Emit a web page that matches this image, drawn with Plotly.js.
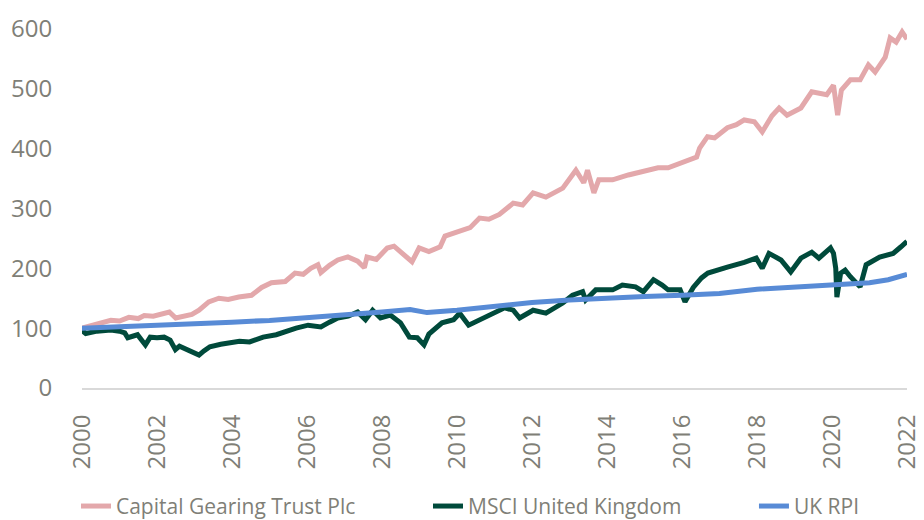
<!DOCTYPE html>
<html>
<head>
<meta charset="utf-8">
<script src="https://cdn.plot.ly/plotly-3.0.1.min.js"></script>
<style>html,body{margin:0;padding:0;background:#fff;}#chart{width:924px;height:520px;}</style>
</head>
<body>
<div id="chart"></div>
<script>
// Capital Gearing Trust Plc (rebased to 100 at 2000)
const cgtYears = [2000.0,2000.25,2000.5,2000.77,2001.0,2001.25,2001.5,2001.66,2001.9,2002.1,2002.33,2002.5,2002.7,2002.93,2003.12,2003.38,2003.65,2003.9,2004.18,2004.52,2004.79,2005.05,2005.42,2005.68,2005.9,2006.1,2006.29,2006.37,2006.6,2006.82,2007.09,2007.35,2007.53,2007.6,2007.85,2008.14,2008.32,2008.6,2008.8,2008.99,2009.25,2009.55,2009.68,2010.07,2010.35,2010.6,2010.85,2011.13,2011.5,2011.75,2012.03,2012.37,2012.6,2012.82,2013.17,2013.38,2013.48,2013.55,2013.65,2013.78,2014.15,2014.57,2015.02,2015.36,2015.63,2016.08,2016.39,2016.47,2016.68,2016.87,2017.21,2017.45,2017.66,2017.93,2018.14,2018.4,2018.59,2018.8,2019.17,2019.46,2019.86,2020.04,2020.15,2020.25,2020.49,2020.75,2020.97,2021.15,2021.42,2021.55,2021.71,2021.87,2022.0];
const cgtValues = [100,104,108,113,112,118,116,121,120,124,127,117,119,123,130,144,150,148,152,155,168,176,178,192,190,200,206,193,205,214,219,212,201,219,215,234,237,222,211,234,228,236,254,262,268,284,282,290,309,306,326,319,326,334,364,343,364,350,326,348,348,356,364,368,368,378,386,401,420,418,435,440,448,445,428,455,468,456,468,495,490,506,456,498,515,515,540,528,553,585,578,595,583];

// MSCI United Kingdom
const msciYears = [2000.0,2000.1,2000.4,2000.77,2001.0,2001.14,2001.22,2001.48,2001.69,2001.82,2002.0,2002.19,2002.35,2002.49,2002.6,2002.72,2002.93,2003.12,2003.25,2003.41,2003.7,2003.94,2004.2,2004.47,2004.83,2005.18,2005.53,2005.71,2006.03,2006.37,2006.6,2006.82,2007.1,2007.35,2007.56,2007.75,2007.96,2008.22,2008.49,2008.73,2008.94,2009.12,2009.25,2009.45,2009.6,2009.91,2010.07,2010.31,2010.6,2010.97,2011.27,2011.5,2011.67,2012.03,2012.37,2012.82,2013.08,2013.35,2013.43,2013.7,2014.15,2014.41,2014.76,2014.97,2015.24,2015.47,2015.63,2015.95,2016.08,2016.3,2016.52,2016.69,2016.87,2017.21,2017.66,2017.98,2018.14,2018.32,2018.64,2018.9,2019.17,2019.46,2019.65,2019.96,2020.04,2020.1,2020.13,2020.23,2020.35,2020.49,2020.75,2020.91,2021.27,2021.63,2021.84,2022.0];
const msciValues = [96,91,95,97,95,92,84,89,72,85,84,85,80,64,70,67,62,55,62,69,73,76,78,77,85,89,97,100,105,102,110,117,120,127,114,130,117,122,109,85,84,72,90,100,109,114,125,105,114,125,134,130,117,130,125,142,155,161,147,164,164,172,169,161,181,172,164,164,144,168,184,192,196,202,210,217,200,225,214,194,217,227,217,234,225,200,152,192,197,186,169,206,219,225,236,245];

// UK RPI
const rpiYears = [2000,2001,2002,2003,2004,2005,2006,2007,2008,2008.75,2009.2,2010,2011,2012,2013,2014,2015,2016,2017,2018,2019,2020,2021,2021.5,2022];
const rpiValues = [100,102,104,107,110,113,117,122,127,131,126,130,137,143,147,151,153,155,158,165,169,173,176,181,190];

const seriesNames = ['Capital Gearing Trust Plc','MSCI United Kingdom','UK RPI'];
const tickYears = [2000,2002,2004,2006,2008,2010,2012,2014,2016,2018,2020,2022];
const yTicks = [0,100,200,300,400,500,600];

const gray = '#7f7f77';
const traces = [
  {x: cgtYears, y: cgtValues, name: seriesNames[0], type: 'scatter', mode: 'lines',
   line: {color: '#e3a8ab', width: 5}, legend: 'legend'},
  {x: msciYears, y: msciValues, name: seriesNames[1], type: 'scatter', mode: 'lines',
   line: {color: '#004a3b', width: 5}, legend: 'legend2'},
  {x: rpiYears, y: rpiValues, name: seriesNames[2], type: 'scatter', mode: 'lines',
   line: {color: '#588bd6', width: 5}, legend: 'legend3'}
];

const legendFont = {size: 21, color: gray, family: '"Open Sans", sans-serif'};
function legendAt(x) {
  return {orientation: 'h', x: x, xanchor: 'left', y: -0.266, yanchor: 'top',
          font: legendFont, bgcolor: 'rgba(0,0,0,0)', borderwidth: 0};
}

const layout = {
  width: 924, height: 520,
  margin: {l: 82, r: 17, t: 20, b: 132, autoexpand: false},
  paper_bgcolor: '#ffffff', plot_bgcolor: '#ffffff',
  font: {family: '"Open Sans", sans-serif', color: gray},
  showlegend: true,
  legend: legendAt(-0.0073),
  legend2: legendAt(0.4194),
  legend3: legendAt(0.8145),
  xaxis: {range: [2000, 2022], tickmode: 'array', tickvals: tickYears, ticktext: tickYears.map(String),
          tickangle: -90, tickfont: {size: 24, color: gray}, showgrid: false, zeroline: false,
          showline: true, linecolor: '#d9d9d9', linewidth: 2, ticklabeloverflow: 'allow',
          ticks: 'outside', ticklen: 15, tickcolor: 'rgba(0,0,0,0)'},
  yaxis: {range: [0, 615], tickmode: 'array', tickvals: yTicks, tickfont: {size: 24, color: gray},
          showgrid: false, zeroline: false, showline: false,
          ticks: 'outside', ticklen: 24, tickcolor: 'rgba(0,0,0,0)'}
};

Plotly.newPlot('chart', traces, layout, {displayModeBar: false, staticPlot: true});
</script>
</body>
</html>
